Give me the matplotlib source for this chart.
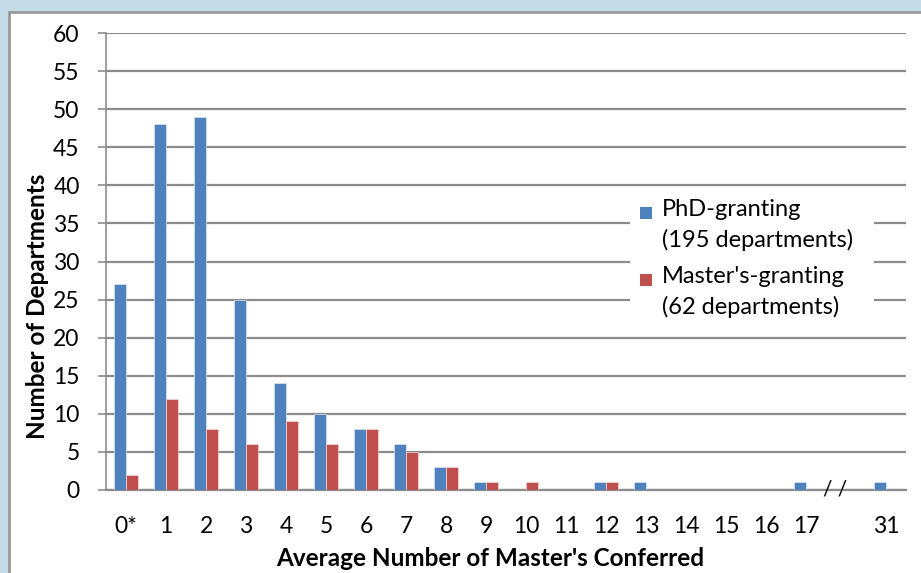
import matplotlib.pyplot as plt
from matplotlib.patches import Rectangle

# --- data ---
categories = ['0*', '1', '2', '3', '4', '5', '6', '7', '8', '9', '10',
              '11', '12', '13', '14', '15', '16', '17', '', '31']
phd_counts = [27, 48, 49, 25, 14, 10, 8, 6, 3, 1, 0, 0, 1, 1, 0, 0, 0, 1, 0, 1]
masters_counts = [2, 12, 8, 6, 9, 6, 8, 5, 3, 1, 1, 0, 1, 0, 0, 0, 0, 0, 0, 0]
legend_labels = ['PhD-granting\n(195 departments)', "Master's-granting\n(62 departments)"]

BLUE = '#4F81BD'
RED = '#C0504D'
GRID = '#8C8C8C'

plt.rcParams['font.family'] = ['Lato', 'DejaVu Sans']

W, H = 921, 573
AX_L, AX_R, AX_T, AX_B = 106, 906, 33, 490
AW, AH = AX_R - AX_L, AX_B - AX_T

fig = plt.figure(figsize=(W / 100, H / 100), dpi=100)
fig.patch.set_facecolor('#C5DCE8')

# white panel with grey border
fig.patches.append(Rectangle((9 / W, -0.05), 1.1, (H - 12) / H + 0.05,
                             transform=fig.transFigure, facecolor='white',
                             edgecolor='#9A9A9A', lw=2, zorder=-10))

ax = fig.add_axes([AX_L / W, (H - AX_B) / H, AW / W, AH / H])
ax.set_facecolor('none')
ax.set_zorder(1)

x = range(len(categories))
bw = 0.29
ax.bar([i - bw / 2 for i in x], phd_counts, width=bw, color=BLUE,
       edgecolor='#DCE6F2', linewidth=0.5, zorder=3)
ax.bar([i + bw / 2 for i in x], masters_counts, width=bw, color=RED,
       edgecolor='#F2DCDB', linewidth=0.5, zorder=3)

ax.set_xlim(-0.5, len(categories) - 0.5)
ax.set_ylim(0, 60)
ax.set_yticks(range(0, 61, 5))
ax.set_xticks(list(x))
ax.set_xticklabels(categories)

ax.yaxis.grid(True, color=GRID, lw=1.6, zorder=0)
for s in ['top', 'right']:
    ax.spines[s].set_visible(False)
ax.spines['left'].set_color(GRID)
ax.spines['bottom'].set_color(GRID)
ax.spines['left'].set_linewidth(1.2)
ax.spines['bottom'].set_linewidth(1.6)

ax.tick_params(axis='y', length=6, color=GRID, width=1.2, labelsize=16.5, pad=13)
ax.tick_params(axis='x', length=0, labelsize=16.5, pad=19)

ax.set_ylabel('Number of Departments', fontsize=17.5, fontweight='bold')
ax.set_xlabel("Average Number of Master's Conferred", fontsize=17.5,
              fontweight='bold')
ax.yaxis.set_label_coords((37 - AX_L) / AW, 0.5 + (AH / 2 - (306 - AX_T)) / AH)
ax.xaxis.set_label_coords(0.48, -(559 - AX_B) / AH)
ax.xaxis.label.set_va('center')
ax.yaxis.label.set_va('center')

# axis break mark
ax.text(17.72, 0, '/ /', ha='center', va='center', fontsize=15,
        clip_on=False, zorder=5)

# legend drawn by hand
ax.add_patch(Rectangle(((630 - AX_L) / AW, (AX_B - 334) / AH), 244 / AW, 140 / AH,
                       transform=ax.transAxes, facecolor='white',
                       edgecolor='none', zorder=4))
for (lab, col, ycen) in [(legend_labels[0], BLUE, 213), (legend_labels[1], RED, 280)]:
    yf = (AX_B - ycen) / AH
    ax.add_patch(Rectangle(((640 - AX_L) / AW, yf - 6 / AH), 12 / AW, 12 / AH,
                           transform=ax.transAxes, facecolor=col,
                           edgecolor='none', zorder=5))
    ax.text((662 - AX_L) / AW, yf + 14 / AH, lab, transform=ax.transAxes,
            ha='left', va='top', fontsize=17, linespacing=1.5, zorder=5)

fig.savefig('out.png', dpi=100)
